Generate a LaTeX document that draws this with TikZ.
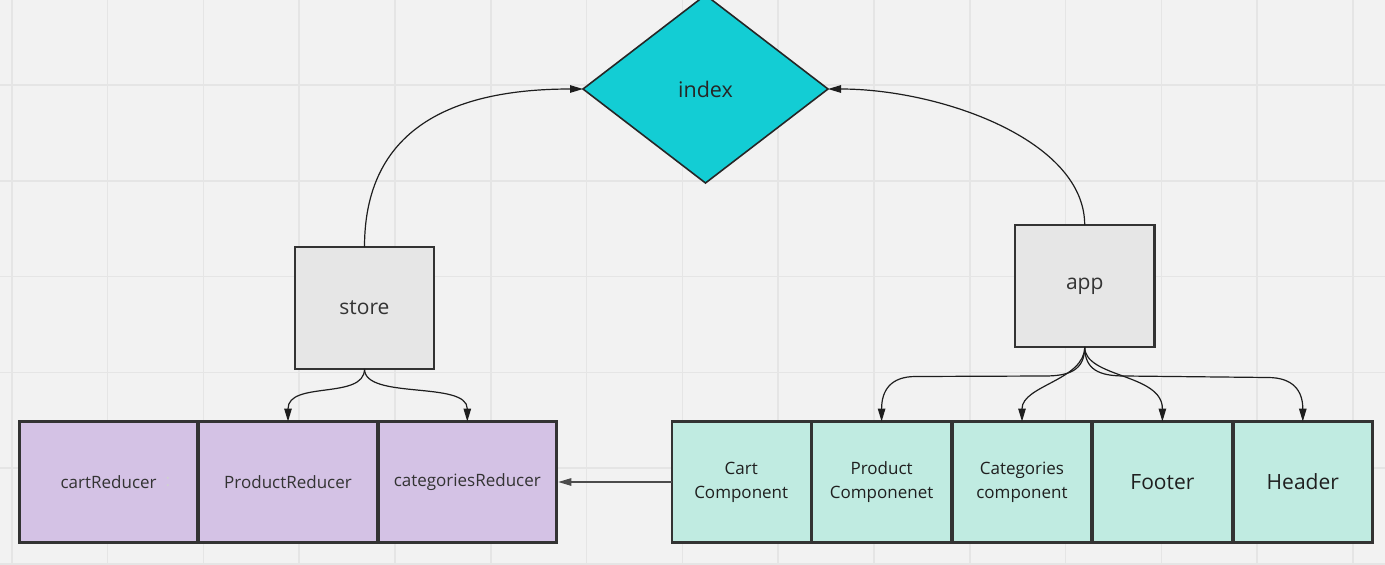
\documentclass[tikz,border=0pt]{standalone}
\usepackage{fontspec}
\setmainfont{Open Sans}
\usetikzlibrary{shapes.geometric,arrows.meta,calc}
\definecolor{bgc}{HTML}{F2F2F2}
\definecolor{gridc}{HTML}{E5E5E5}
\definecolor{diamc}{HTML}{13CDD4}
\definecolor{redc}{HTML}{D4C2E5}
\definecolor{compc}{HTML}{C0EBE1}
\definecolor{grayc}{HTML}{E6E6E6}
\definecolor{edgec}{HTML}{333333}
\definecolor{txtc}{HTML}{333333}
\definecolor{linec}{HTML}{1E1E1E}
\tikzset{
  gridline/.style={draw=gridc, line width=1.6pt},
  bigbox/.style={draw=edgec, line width=2.4pt, fill=grayc, minimum width=139.5pt, minimum height=122pt, inner sep=0pt, outer sep=0pt, text=txtc, font=\fontsize{21}{26}\selectfont},
  redbox/.style={draw=edgec, line width=2.4pt, fill=redc, minimum width=178pt, minimum height=121pt, inner sep=0pt, outer sep=0pt, text=txtc, font=\fontsize{17}{24}\selectfont},
  compbox/.style={draw=edgec, line width=2.4pt, fill=compc, minimum width=139pt, minimum height=121pt, inner sep=0pt, outer sep=0pt, text=black!88, align=center, font=\fontsize{17}{24}\selectfont},
  compbig/.style={compbox, font=\fontsize{21}{26}\selectfont},
  conn/.style={draw=linec, line width=1.2pt, -{Triangle[length=13pt,width=7.5pt]}},
}
\begin{document}
\begin{tikzpicture}[x=1pt,y=-1pt]
\useasboundingbox (0,0) rectangle (1385,565);
\fill[bgc] (0,0) rectangle (1385,565);
\foreach \i in {0,...,14} \draw[gridline] ({11.7+95.8*\i},0) -- ({11.7+95.8*\i},565);
\foreach \j in {0,...,5} \draw[gridline] (0,{85+95.8*\j}) -- (1385,{85+95.8*\j});

% index diamond
\node[diamond, draw=black!85, line width=1.6pt, fill=diamc, minimum width=245pt, minimum height=188pt, inner sep=0pt, outer sep=0pt, text=black!85, font=\fontsize{21.5}{26}\selectfont] (index) at (705.5,89) {index};

% store and app
\node[bigbox] (store) at (364.5,308) {store};
\node[bigbox] (app) at (1084.7,286) {app};

% reducers
\node[redbox] (cartr) at (108.6,482) {cartReducer};
\node[text=black!18, font=\fontsize{17}{24}\selectfont] (colon) at (168,482) {:};
\node[redbox] (prodr) at (288,482) {ProductReducer};
\node[redbox] (catr) at (467.3,482) {categoriesReducer};

% components
\node[compbox] (cartc) at (741.2,482) {Cart\\Component};
\node[compbox] (prodc) at (881.6,482) {Product\\Componenet};
\node[compbox] (catc) at (1022,482) {Categories\\component};
\node[compbig] (foot) at (1162.4,482) {Footer};
\node[compbig] (head) at (1302.8,482) {Header};

% connectors to index
\draw[conn] (store.north) .. controls +(0,-117) and +(-133,0) .. (index.west);
\draw[conn] (app.north) .. controls +(0,-85) and +(112,0) .. (index.east);

% store to reducers
\draw[conn] (store.south) .. controls +(0,31) and +(0,-41) .. (prodr.north);
\draw[conn] (store.south) .. controls +(0,31) and +(0,-41) .. (catr.north);

% app to components
\draw[conn] (app.south) .. controls +(0,23) and +(25,0) .. ($(app.south)+(-40,29)$) -- ($(prodc.north)+(34,-45)$) .. controls +(-25,0) and +(0,-31) .. (prodc.north);
\draw[conn] (app.south) .. controls +(0,33) and +(0,-36) .. (catc.north);
\draw[conn] (app.south) .. controls +(0,31) and +(0,-48) .. (foot.north);
\draw[conn] (app.south) .. controls +(0,23) and +(-25,0) .. ($(app.south)+(40,29)$) -- ($(head.north)+(-35,-44)$) .. controls +(25,0) and +(0,-31) .. (head.north);

% cart component to categories reducer
\draw[conn, draw=black!70, shorten >=2pt] (cartc.west) -- (catr.east);
\end{tikzpicture}
\end{document}
